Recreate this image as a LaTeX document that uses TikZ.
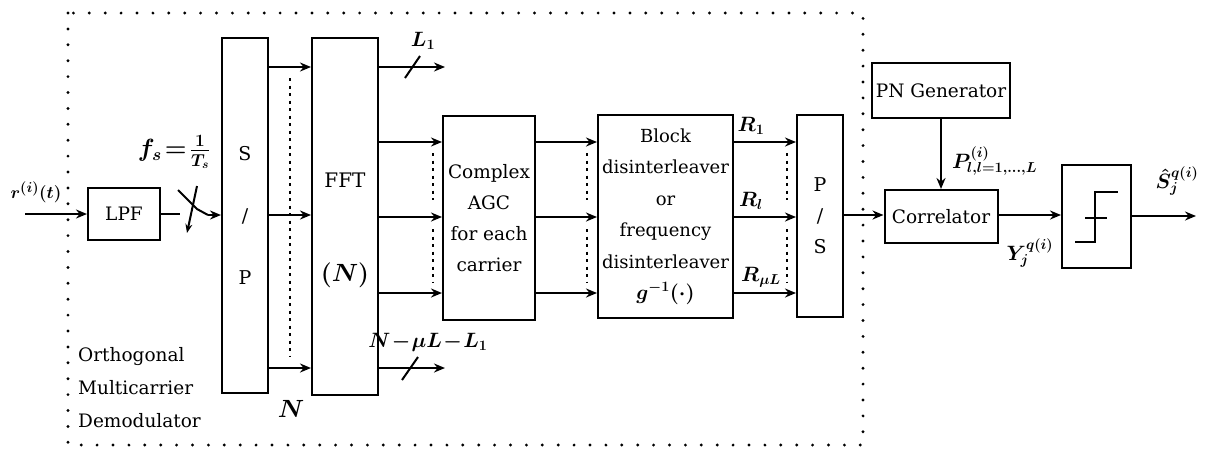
\documentclass[tikz,border=0pt]{standalone}
\usepackage{fontspec}
\setmainfont{DejaVu Serif}
\usetikzlibrary{arrows.meta}
\begin{document}
\begin{tikzpicture}[x=1pt,y=-1pt,
  box/.style={draw,line width=2pt,inner sep=0pt,align=center,
    font=\fontsize{18.5}{31}\selectfont},
  txt/.style={inner sep=0pt,align=center,font=\fontsize{18.5}{31}\selectfont},
  mlab/.style={inner sep=0pt,font=\fontsize{22}{22}\selectfont\boldmath},
  arr/.style={line width=2pt,-{Stealth[length=11pt,width=9pt]}},
  wire/.style={line width=2pt},
  frame/.style={line width=3.2pt,dash pattern=on 0pt off 15.9pt,line cap=round},
  idots/.style={line width=2.4pt,dash pattern=on 3pt off 4.5pt}]
\useasboundingbox (0,0) rectangle (1212,451);
\draw[frame] (68,13) rectangle (863,445);

% row coordinates
\coordinate (ya) at (0,67);
\coordinate (ym) at (0,215);
\coordinate (yb) at (0,368);
\coordinate (r1) at (0,142);
\coordinate (r2) at (0,217);
\coordinate (r3) at (0,293);

% blocks
\node[box,minimum width=72pt,minimum height=52pt] (lpf) at (124,214) {LPF};
\node[box,minimum width=46pt,minimum height=355pt,font=\fontsize{19}{62}\selectfont] (sp) at (245,215.5) {S\\/\\P};
\node[box,minimum width=66pt,minimum height=357pt] (fft) at (345,216.5) {};
\node[txt,font=\fontsize{20}{20}\selectfont] (fftT) at (345,180) {FFT};
\node[txt,font=\fontsize{24}{24}\selectfont\boldmath] (fftN) at (345,275) {$(N)$};
\node[box,minimum width=92pt,minimum height=204pt] (agc) at (489,218) {Complex\\AGC\\for each\\carrier};
\node[box,minimum width=135pt,minimum height=203pt,font=\fontsize{18}{31.5}\selectfont] (blk) at (665.5,216.5) {Block\\disinterleaver\\or\\frequency\\disinterleaver\\{\fontsize{21}{21}\selectfont\boldmath$g^{-1}(\cdot)$}};
\node[box,minimum width=46pt,minimum height=202pt,font=\fontsize{19}{31}\selectfont] (ps) at (820,216) {P\\/\\S};
\node[box,minimum width=138pt,minimum height=55pt] (pn) at (941,90.5) {PN Generator};
\node[box,minimum width=113pt,minimum height=53pt] (cor) at (941,216.5) {Correlator};
\node[box,minimum width=69pt,minimum height=103pt] (qz) at (1096.5,216.5) {};

% quantizer symbol
\draw[wire] (1075,242) -- (1095,242) -- (1095,192) -- (1118,192);
\draw[wire] (1085,218) -- (1107,218);

% input
\coordinate (in) at (25,214);
\draw[arr] (in) -- (lpf.west);
\node[mlab,font=\fontsize{19}{19}\selectfont\boldmath] (rlab) at (36,192) {$r^{(i)}(t)$};

% sampling switch
\coordinate (swa) at (180,214);
\coordinate (swb) at (178,190);
\coordinate (swc) at (197,209);
\coordinate (swd) at (208,215);
\coordinate (swe) at (197,186);
\coordinate (swf) at (187,233);
\draw[wire] (lpf.east) -- (swa);
\draw[wire] (swb) -- (swc) -- (swd);
\draw[arr] (swd) -- (sp.west |- swd);
\draw[line width=2pt,-{Stealth[length=9pt,width=7pt]}] (swe) -- (swf);
\node[mlab,font=\fontsize{23}{23}\selectfont\boldmath] (fs) at (174,152) {$f_s\!=\!\frac{1}{T_s}$};

% S/P -> FFT
\foreach \r in {ya,ym,yb} \draw[arr] (sp.east |- \r) -- (fft.west |- \r);
\draw[idots] (290,78) -- (290,357);
\node[mlab,font=\fontsize{28}{28}\selectfont\boldmath] (nlab) at (291,409) {$N$};

% FFT side outputs
\coordinate (l1e) at (445,67);
\coordinate (l2e) at (445,368);
\draw[arr] (fft.east |- ya) -- (l1e);
\draw[wire] (405,78) -- (420,56);
\draw[arr] (fft.east |- yb) -- (l2e);
\draw[wire] (402,380) -- (418,357);
\node[mlab] (l1lab) at (423,41) {$L_1$};
\node[mlab,font=\fontsize{20}{20}\selectfont\boldmath] (l2lab) at (428,342) {$N\!-\!\mu L\!-\!L_1$};

% parallel branches
\foreach \r in {r1,r2,r3} {
  \draw[arr] (fft.east |- \r) -- (agc.west |- \r);
  \draw[arr] (agc.east |- \r) -- (blk.west |- \r);
  \draw[arr] (blk.east |- \r) -- (ps.west |- \r);
}
\foreach \x in {433,587,787} {
  \draw[idots] (\x,153) -- (\x,200);
  \draw[idots] (\x,229) -- (\x,282);
}
\node[mlab] (ra) at (751,126) {$R_1$};
\node[mlab] (rb) at (751,201) {$R_l$};
\node[mlab] (rc) at (761,277) {$R_{\mu L}$};

% right part
\draw[arr] (ps.east |- ym) -- (cor.west |- ym);
\draw[arr] (pn.south) -- (cor.north);
\node[mlab,anchor=west] (plab) at (952,161) {$P^{(i)}_{l,l=1,\dots,L}$};
\draw[arr] (cor.east |- ym) -- (qz.west |- ym);
\node[mlab] (ylab) at (1030,253) {$Y_j^{q(i)}$};
\coordinate (out) at (1196,216);
\draw[arr] (qz.east |- out) -- (out);
\node[mlab] (slab) at (1177,181) {$\hat{S}_j^{q(i)}$};

% caption inside frame
\node[txt,anchor=west,align=left,font=\fontsize{18.5}{33}\selectfont] (demod) at (78,388) {Orthogonal\\Multicarrier\\Demodulator};
\end{tikzpicture}
\end{document}
